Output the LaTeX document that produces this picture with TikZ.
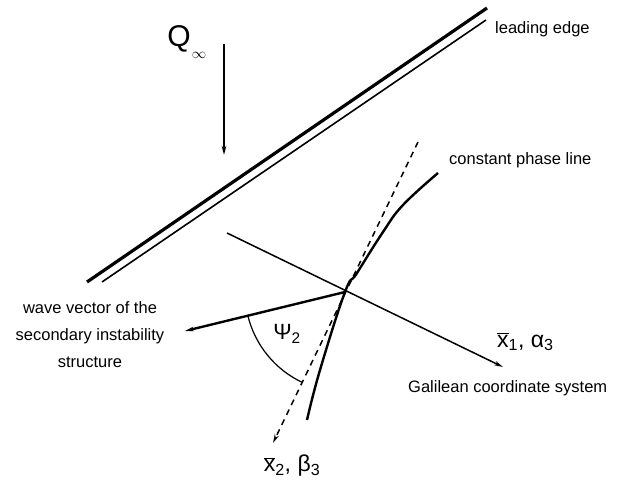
\documentclass[tikz,border=0pt]{standalone}
\usepackage{fontspec}
\setmainfont{Liberation Sans}
\usepackage{tikz}
\usetikzlibrary{arrows.meta,positioning,calc}

\begin{document}
\begin{tikzpicture}[x=1pt,y=-1pt,>={Stealth[length=9pt,width=4.5pt]},
  lbl/.style={font=\fontsize{16.5}{27}\selectfont,inner sep=0pt},
  sym/.style={font=\fontsize{23}{25}\selectfont,inner sep=0pt},
  thinline/.style={line width=1.5pt},
  boldline/.style={line width=2.4pt}]
  \useasboundingbox (0,0) rectangle (621,489);
  % leading edge (double line)
  \coordinate (le1) at (87,282);  \coordinate (le2) at (487,8);
  \coordinate (lt1) at (102,282); \coordinate (lt2) at (486,20);
  \draw[line width=3.2pt] (le1) -- (le2);
  \draw[line width=1.6pt] (lt1) -- (lt2);
  \node[lbl,anchor=west] (edge) at (495,29) {leading edge};
  % free stream
  \node[inner sep=0pt,font=\fontsize{30}{32}\selectfont] (Q) at (179,39) {Q};
  \node[inner sep=0pt,font=\fontsize{14}{14}\selectfont] (Qinf) at (199,55) {$\infty$};
  \coordinate (qtop) at (224,44); \coordinate (qbot) at (224,155);
  \draw[->,thinline] (qtop) -- (qbot);
  % origin and axes
  \coordinate (O) at (345,292);
  \coordinate (g1) at (227,233); \coordinate (g2) at (503,367);
  \draw[->,thinline] (g1) -- (g2);
  \coordinate (d1) at (418,142); \coordinate (d2) at (273,443);
  \draw[->,thinline,dash pattern=on 6pt off 5pt] (d1) -- (d2);
  \coordinate (wv) at (185,331);
  \draw[->,boldline] (O) -- (wv);
  % constant phase line
  \draw[boldline] plot[smooth,tension=0.7] coordinates
    {(438,173) (403,205) (383,232) (357,273) (345,292) (320,370) (307,420)};
  \node[lbl,anchor=west] (phase) at (449,160) {constant phase line};
  % angle
  \draw[line width=1.2pt] ($(O)!100pt!(wv)$) arc[start angle=166.3,end angle=115.5,radius=100];
  \node[inner sep=0pt,font=\fontsize{22}{24}\selectfont] (psi) at (287,334) {Ψ\textsubscript{2}};
  % labels
  \node[sym,anchor=west] (x1) at (497,342) {$\overline{\mbox{x}}$\textsubscript{1}, α\textsubscript{3}};
  \node[sym] (x2) at (292,466) {$\overline{\mbox{x}}$\textsubscript{2}, β\textsubscript{3}};
  \node[lbl,align=center] (wave) at (90,335) {wave vector of the\\secondary instability\\structure};
  \node[lbl,anchor=west] (gal) at (408,388) {Galilean coordinate system};
\end{tikzpicture}
\end{document}
